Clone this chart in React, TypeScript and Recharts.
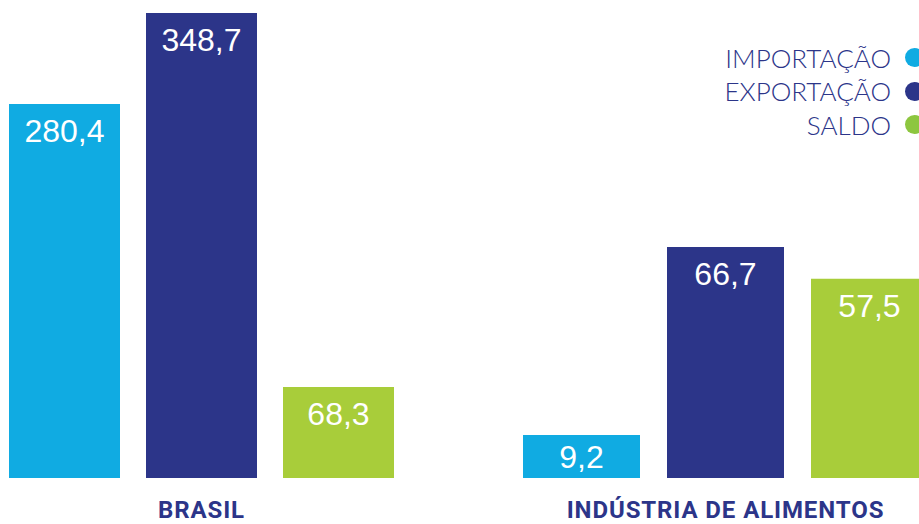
import React from "react";
import { BarChart, Bar, XAxis, YAxis, LabelList } from "recharts";

const seriesNames = ["IMPORTAÇÃO", "EXPORTAÇÃO", "SALDO"];
const seriesKeys = ["importacao", "exportacao", "saldo"];
const seriesColors = ["#10ABE2", "#2C3589", "#A8CD3A"];
const legendDotColors = ["#10ABE2", "#2C3589", "#8DC63F"];

const categories = ["BRASIL", "INDÚSTRIA DE ALIMENTOS"];
const importacao = [280.4, 9.2];
const exportacao = [348.7, 66.7];
const saldo = [68.3, 57.5];

const fmt = (v: number) => v.toFixed(1).replace(".", ",");

const rowFor = (i: number) => ({
  name: categories[i],
  importacao: importacao[i],
  exportacao: exportacao[i],
  saldo: saldo[i],
});

const ValueLabel = (props: any) => {
  const { x, y, width, height, value } = props;
  const base = Math.min(38, height / 2 + 11);
  return (
    <text
      x={x + width / 2}
      y={y + base}
      textAnchor="middle"
      fill="#ffffff"
      fontFamily="'Liberation Sans', Arial, sans-serif"
      fontSize={32}
    >
      {fmt(value)}
    </text>
  );
};

const CatTick = (props: any) => {
  const { x, y, payload } = props;
  return (
    <text
      x={x}
      y={y + 32}
      textAnchor="middle"
      fill="#2C3589"
      fontFamily="Roboto, sans-serif"
      fontWeight={700}
      fontSize={24}
      letterSpacing={0.9}
    >
      {payload.value}
    </text>
  );
};

function GroupChart(props: {
  index: number;
  left: number;
  width: number;
  top: number;
  barSize: number;
  barGap: number;
  max: number;
  minSize: number;
}) {
  const { index, left, width, top, barSize, barGap, max, minSize } = props;
  return (
    <div style={{ position: "absolute", left, top: 0 }}>
      <BarChart
        width={width}
        height={524}
        data={[rowFor(index)]}
        margin={{ top, right: 0, bottom: 0, left: 0 }}
        barGap={barGap}
        barCategoryGap={0}
      >
        <XAxis
          dataKey="name"
          axisLine={false}
          tickLine={false}
          height={46}
          interval={0}
          tick={<CatTick />}
        />
        <YAxis hide domain={[0, max]} />
        {seriesKeys.map((k, i) => (
          <Bar
            key={k}
            dataKey={k}
            name={seriesNames[i]}
            fill={seriesColors[i]}
            barSize={barSize}
            minPointSize={minSize}
            isAnimationActive={false}
          >
            <LabelList dataKey={k} content={<ValueLabel />} />
          </Bar>
        ))}
      </BarChart>
    </div>
  );
}

export default function App() {
  return (
    <div
      style={{
        position: "absolute",
        left: 0,
        top: 0,
        width: 919,
        height: 524,
        overflow: "hidden",
        background: "#ffffff",
      }}
    >
      <GroupChart index={0} left={0} width={403} top={13} barSize={111} barGap={26} max={348.7} minSize={0} />
      <GroupChart index={1} left={508} width={435} top={247} barSize={117} barGap={27} max={66.7} minSize={43} />
      <div style={{ position: "absolute", right: 0, top: 41 }}>
        {seriesNames.map((n, i) => (
          <div
            key={n}
            style={{
              display: "flex",
              alignItems: "center",
              justifyContent: "flex-end",
              height: 33.5,
              fontFamily: "Lato, sans-serif",
              fontWeight: 300,
              fontSize: 26,
              color: "#2C3589",
            }}
          >
            <span>{n}</span>
            <span
              style={{
                display: "inline-block",
                width: 19,
                height: 19,
                borderRadius: "50%",
                background: legendDotColors[i],
                marginLeft: 14,
                marginRight: -5,
              }}
            />
          </div>
        ))}
      </div>
    </div>
  );
}
